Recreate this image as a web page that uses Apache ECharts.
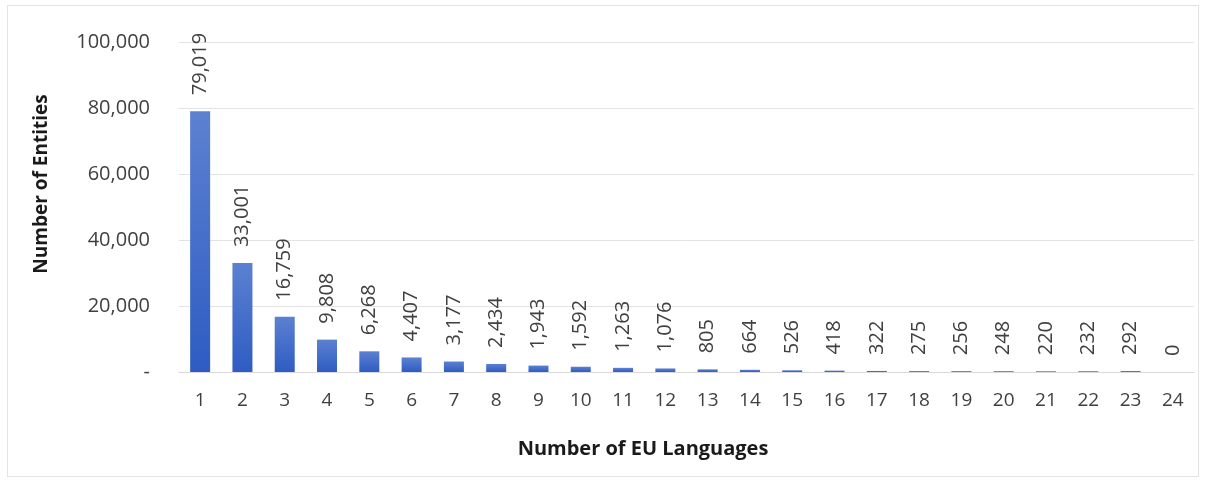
<!DOCTYPE html>
<html>
<head>
<meta charset="utf-8">
<script src="https://cdn.jsdelivr.net/npm/echarts@6/dist/echarts.min.js"></script>
<style>
  html, body { margin: 0; padding: 0; background: #ffffff; }
  #frame {
    position: absolute; left: 7px; top: 5px; width: 1192px; height: 472px;
    border: 1px solid #e3e3e3; box-sizing: border-box;
  }
  #chart { position: absolute; left: 0; top: 0; width: 1205px; height: 481px; }
</style>
</head>
<body>
<div id="frame"></div>
<div id="chart"></div>
<script>
// Entities by number of EU languages they publish in
const languageCounts = ['1','2','3','4','5','6','7','8','9','10','11','12',
  '13','14','15','16','17','18','19','20','21','22','23','24'];
const entityCounts = [79019, 33001, 16759, 9808, 6268, 4407, 3177, 2434, 1943,
  1592, 1263, 1076, 805, 664, 526, 418, 322, 275, 256, 248, 220, 232, 292, 0];
const yTicks = [0, 20000, 40000, 60000, 80000, 100000];
const xTitle = 'Number of EU Languages';
const yTitle = 'Number of Entities';

const fontFamily = '"Open Sans", "Noto Sans", sans-serif';
const fmt = v => v === 0 ? '-' : v.toLocaleString('en-US');
const titleStyle = { fontFamily, fontWeight: 'bold', fill: '#1a1a1a' };

const chart = echarts.init(document.getElementById('chart'), null, { renderer: 'canvas' });
chart.setOption({
  animation: false,
  grid: { left: 179, right: 11, top: 42, bottom: 109 },
  // axis titles
  graphic: [
    {
      type: 'text', x: 643, y: 449,
      style: Object.assign({ text: xTitle, fontSize: 20, align: 'center', verticalAlign: 'middle' }, titleStyle)
    },
    {
      type: 'text', x: 42, y: 184, rotation: Math.PI / 2,
      style: Object.assign({ text: yTitle, fontSize: 19, align: 'center', verticalAlign: 'middle' }, titleStyle)
    }
  ],
  xAxis: {
    type: 'category',
    data: languageCounts,
    axisLine: { lineStyle: { color: '#d9d9d9' } },
    axisTick: { show: false },
    axisLabel: { fontFamily, fontSize: 19, color: '#404040', margin: 19 }
  },
  yAxis: {
    type: 'value',
    min: yTicks[0],
    max: yTicks[yTicks.length - 1],
    interval: yTicks[1] - yTicks[0],
    axisLine: { show: false },
    axisTick: { show: false },
    splitLine: { lineStyle: { color: '#e3e3e3' } },
    axisLabel: { fontFamily, fontSize: 20, color: '#404040', margin: 29, formatter: fmt }
  },
  series: [{
    type: 'bar',
    data: entityCounts,
    barWidth: 20,
    itemStyle: {
      color: new echarts.graphic.LinearGradient(0, 0, 0, 1, [
        { offset: 0, color: '#5c81d1' },
        { offset: 1, color: '#2e5cc2' }
      ])
    },
    label: {
      show: true,
      position: 'top',
      rotate: 90,
      align: 'left',
      verticalAlign: 'middle',
      distance: 16,
      fontFamily,
      fontSize: 20,
      color: '#404040',
      formatter: p => p.value.toLocaleString('en-US')
    }
  }]
});
</script>
</body>
</html>
